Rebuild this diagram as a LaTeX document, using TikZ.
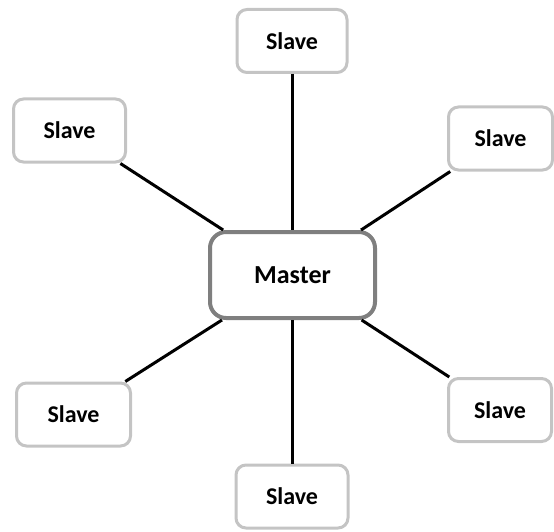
\documentclass[tikz,border=0pt]{standalone}
\usepackage{fontspec}
\setmainfont{Carlito}
\definecolor{slaveborder}{HTML}{C4C4C4}
\definecolor{masterborder}{HTML}{7F7F7F}
\begin{document}
\begin{tikzpicture}[x=1pt,y=-1pt,
  slavebox/.style={draw=slaveborder, line width=3pt, rounded corners=10pt, fill=white,
    minimum width=#1, minimum height=63pt, inner sep=0pt,
    font=\fontsize{24}{29}\selectfont\bfseries},
  slavebox/.default=111pt,
  masterbox/.style={draw=masterborder, line width=4pt, rounded corners=16pt, fill=white,
    minimum width=165pt, minimum height=86pt, inner sep=0pt,
    font=\fontsize{26}{31}\selectfont\bfseries},
  link/.style={draw=black, line width=3pt}]
\useasboundingbox (0,0) rectangle (554,532);
\node[masterbox] (m) at (292.5,275) {Master};
\node[slavebox=110pt] (t) at (292,41) {Slave};
\node[slavebox=112pt] (tl) at (69.5,130.5) {Slave};
\node[slavebox=104pt] (tr) at (500.5,138.5) {Slave};
\node[slavebox=114pt] (bl) at (73.5,414.5) {Slave};
\node[slavebox=103pt] (br) at (500,410) {Slave};
\node[slavebox=112pt] (b) at (292,496.5) {Slave};
\draw[link] (t.south) -- (t.south |- m.north);
\draw[link] (b.north) -- (b.north |- m.south);
\draw[link] (tl) -- (m);
\draw[link] (tr) -- (m);
\draw[link] (bl) -- (m);
\draw[link] (br) -- (m);
\end{tikzpicture}
\end{document}
